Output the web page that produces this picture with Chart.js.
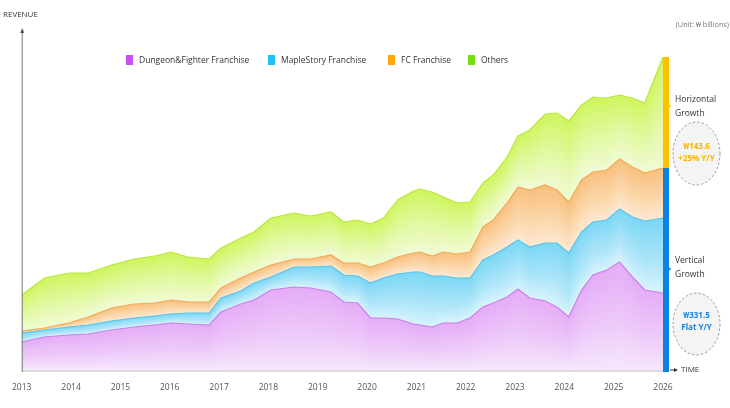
<!DOCTYPE html>
<html>
<head>
<meta charset="utf-8">
<script src="https://cdn.jsdelivr.net/npm/chart.js@4.4.1/dist/chart.umd.min.js"></script>
<style>
html,body{margin:0;padding:0;background:#fff;}
#wrap{width:730px;height:408px;position:relative;}
</style>
</head>
<body>
<div id="wrap"><canvas id="c" width="730" height="408"></canvas></div>
<script>
// ---- data ----
const timePoints = [2013.00,2013.46,2013.95,2014.35,2014.82,2015.28,2015.69,2016.03,2016.37,2016.80,
  2017.04,2017.44,2017.71,2018.05,2018.52,2018.86,2019.27,2019.53,2019.81,2020.07,
  2020.33,2020.62,2020.94,2021.08,2021.32,2021.55,2021.83,2022.09,2022.35,2022.56,
  2022.84,2023.06,2023.30,2023.61,2023.85,2024.09,2024.35,2024.58,2024.86,2025.12,
  2025.38,2025.63,2026.00];
const dungeonFighter = [28,33,35,36,40,43,45,47,46,45, 58,66,70,80,83,82,78,68,67,52,
  52,51,46,45,43,47,47,52,63,67, 73,81,72,69,63,53,80,95,100,108, 93,80,77];
const mapleStory = [9,7,8,9,9,9,9,9,11,12, 14,13,17,13,20,21,26,27,27,35,
  40,45,52,53,51,47,45,40,47,48, 50,49,51,58,64,64,58,53,50,53, 60,69,75];
const fcFranchise = [2,2,4,8,13,14,13,14,11,11, 10,13,11,12,8,8,11,12,13,16,
  15,17,19,20,20,24,24,26,33,35, 44,53,57,58,53,51,52,50,50,50, 50,48,50];
const others = [36,50,50,44,43,45,47,48,45,43, 40,40,40,47,46,43,43,41,43,43,
  45,57,62,63,64,55,51,50,44,45, 46,51,60,71,77,81,75,75,72,64, 69,70,111];
const yearTicks = ['2013','2014','2015','2016','2017','2018','2019','2020','2021','2022','2023','2024','2025','2026'];
const seriesNames = ['Dungeon&Fighter Franchise','MapleStory Franchise','FC Franchise','Others'];
const horizontalNote = ['₩143.6','+25% Y/Y'];
const verticalNote = ['₩331.5','Flat Y/Y'];

// ---- styles ----
const legendColors = ['#c94ff2','#1cc3f4','#ffa60a','#78dc12'];
const lineColors = ['#c97fe9','#55c4ea','#f3a955','#bde640'];
// gradient stops inside each layer: 0 = top edge of the layer, 1 = bottom edge
const layerStops = [
  [[0,'#e5acf7'],[0.55,'#edc9f9'],[1,'#f5e7fb']],
  [[0,'#7cd7f5'],[0.6,'#aee5f9'],[1,'#d8f4fd']],
  [[0,'#f8c07e'],[0.6,'#fbd8ad'],[1,'#fde9d2']],
  [[0,'#cff55e'],[0.5,'#e1f89f'],[1,'#f0fbd5']]
];
const FONT = '"Open Sans", "Noto Sans", sans-serif';
const seriesData = [dungeonFighter, mapleStory, fcFranchise, others];

function stackAt(idx, xv){
  if (idx < 0) return 0;
  let k = 0;
  while (k < timePoints.length - 2 && timePoints[k+1] < xv) k++;
  const t0 = timePoints[k], t1 = timePoints[k+1];
  const f = Math.max(0, Math.min(1, (xv - t0) / (t1 - t0)));
  let s = 0;
  for (let i = 0; i <= idx; i++) s += seriesData[i][k] + (seriesData[i][k+1] - seriesData[i][k]) * f;
  return s;
}

function layerFill(idx){
  return function(ctx){
    const chart = ctx.chart; const a = chart.chartArea;
    const xs = chart.scales && chart.scales.x, ys = chart.scales && chart.scales.y;
    if (!a || !xs || !ys) return lineColors[idx];
    chart.$pat = chart.$pat || {};
    const key = idx + ':' + a.left + ':' + a.right + ':' + a.top + ':' + a.bottom;
    if (chart.$pat[key]) return chart.$pat[key];
    const cv = document.createElement('canvas');
    cv.width = chart.width; cv.height = chart.height;
    const c = cv.getContext('2d');
    for (let px = Math.floor(a.left) - 1; px <= Math.ceil(a.right) + 1; px++) {
      const xv = Math.max(timePoints[0], Math.min(timePoints[timePoints.length-1], xs.getValueForPixel(px + 0.5)));
      const yT = ys.getPixelForValue(stackAt(idx, xv));
      const yB = ys.getPixelForValue(stackAt(idx - 1, xv));
      const g = c.createLinearGradient(0, yT, 0, Math.max(yB, yT + 1));
      layerStops[idx].forEach(s => g.addColorStop(s[0], s[1]));
      c.fillStyle = g;
      c.fillRect(px, yT - 3, 1, yB - yT + 6);
    }
    const p = chart.ctx.createPattern(cv, 'no-repeat');
    chart.$pat[key] = p;
    return p;
  };
}

const datasets = seriesData.map((arr, i) => ({
  label: seriesNames[i],
  data: arr.map((v, k) => ({x: timePoints[k], y: v})),
  borderColor: lineColors[i],
  borderWidth: 1.2,
  backgroundColor: layerFill(i),
  fill: i === 0 ? 'origin' : '-1',
  pointRadius: 0,
  tension: 0
}));

function ellipse(ctx, cx, cy, rx, ry){
  ctx.beginPath(); ctx.ellipse(cx, cy, rx, ry, 0, 0, Math.PI*2);
  ctx.fillStyle = '#f4f4f4'; ctx.fill();
  ctx.setLineDash([2.5,2]); ctx.strokeStyle = '#9a9a9a'; ctx.lineWidth = 1; ctx.stroke();
  ctx.setLineDash([]);
}

const decor = {
  id: 'decor',
  afterDatasetsDraw(chart){
    const ctx = chart.ctx; const xs = chart.scales.x; const ys = chart.scales.y;
    const a = chart.chartArea;
    ctx.save();
    // x axis base line
    ctx.strokeStyle = '#dcdcdc'; ctx.lineWidth = 2;
    ctx.beginPath(); ctx.moveTo(a.left, a.bottom+1); ctx.lineTo(a.right, a.bottom+1); ctx.stroke();
    // y axis with arrow
    ctx.strokeStyle = '#777'; ctx.lineWidth = 1;
    ctx.beginPath(); ctx.moveTo(a.left+0.5, a.top+2); ctx.lineTo(a.left+0.5, a.bottom+2); ctx.stroke();
    ctx.fillStyle = '#555';
    ctx.beginPath(); ctx.moveTo(a.left+0.5, a.top-2); ctx.lineTo(a.left-1.5, a.top+3); ctx.lineTo(a.left+2.5, a.top+3); ctx.fill();
    // right growth bar (from last data point)
    const n = timePoints.length - 1;
    const xr = xs.getPixelForValue(timePoints[n]);
    const total = dungeonFighter[n]+mapleStory[n]+fcFranchise[n]+others[n];
    const mid = dungeonFighter[n]+mapleStory[n]+fcFranchise[n];
    const yTop = ys.getPixelForValue(total), yMid = ys.getPixelForValue(mid), yBot = ys.getPixelForValue(0);
    ctx.fillStyle = '#ffc000'; ctx.fillRect(xr, yTop, 6, yMid - yTop);
    ctx.fillStyle = '#0a82e0'; ctx.fillRect(xr, yMid, 6, yBot - yMid + 2);
    ctx.fillStyle = '#ffc000'; ctx.beginPath(); ctx.arc(xr+6.5, 106, 1.3, 0, Math.PI*2); ctx.fill();
    ctx.fillStyle = '#0a82e0'; ctx.beginPath(); ctx.arc(xr+6.5, 269, 1.3, 0, Math.PI*2); ctx.fill();
    // TIME arrow
    ctx.strokeStyle = '#333'; ctx.lineWidth = 1;
    ctx.beginPath(); ctx.moveTo(xr+7, a.bottom); ctx.lineTo(xr+13, a.bottom); ctx.stroke();
    ctx.fillStyle = '#333';
    ctx.beginPath(); ctx.moveTo(xr+15, a.bottom); ctx.lineTo(xr+11, a.bottom-2); ctx.lineTo(xr+11, a.bottom+2); ctx.fill();
    ctx.font = '8px ' + FONT; ctx.textBaseline = 'middle'; ctx.textAlign = 'left';
    ctx.fillText('TIME', xr+18, a.bottom);
    // labels
    ctx.fillStyle = '#333'; ctx.font = '8px ' + FONT;
    ctx.fillText('REVENUE', 3, 15);
    ctx.font = '8.5px ' + FONT;
    ctx.fillText('Horizontal', 675, 100);
    ctx.fillText('Growth', 675, 114);
    ctx.fillText('Vertical', 675, 261);
    ctx.fillText('Growth', 675, 275);
    ctx.fillStyle = '#777'; ctx.font = '7.3px ' + FONT; ctx.textAlign = 'right';
    ctx.fillText('(Unit: ₩ billions)', 729, 25);
    // ellipses
    ellipse(ctx, 696.5, 153.5, 23.5, 31.5);
    ellipse(ctx, 696.5, 324, 23.5, 31);
    ctx.textAlign = 'center'; ctx.font = 'bold 8px ' + FONT;
    ctx.fillStyle = '#f7b500';
    ctx.fillText(horizontalNote[0], 696.5, 147);
    ctx.fillText(horizontalNote[1], 696.5, 159);
    ctx.fillStyle = '#1683e2';
    ctx.fillText(verticalNote[0], 696.5, 316);
    ctx.fillText(verticalNote[1], 696.5, 328);
    // legend
    const legendX = [126, 268, 388, 468];
    ctx.textAlign = 'left'; ctx.font = '8.5px ' + FONT;
    seriesNames.forEach((name, i) => {
      ctx.fillStyle = legendColors[i];
      ctx.fillRect(legendX[i], 55, 7, 10);
      ctx.fillStyle = '#333';
      ctx.fillText(name, legendX[i] + 13, 60.5);
    });
    ctx.restore();
  }
};

new Chart(document.getElementById('c'), {
  type: 'line',
  data: { datasets },
  options: {
    responsive: false,
    animation: false,
    devicePixelRatio: 1,
    layout: { padding: { left: 20, right: 67, top: 30, bottom: 0 } },
    plugins: { legend: { display: false }, tooltip: { enabled: false } },
    scales: {
      x: {
        type: 'linear', min: 2013, max: 2026,
        grid: { display: false, drawTicks: false },
        border: { display: false },
        ticks: {
          stepSize: 1, autoSkip: false, maxRotation: 0, padding: 12,
          color: '#555', font: { family: FONT, size: 8.5 },
          callback: (v) => yearTicks[Math.round(v - 2013)] ?? ''
        },
        afterFit(scale){ scale.height = 38; }
      },
      y: { stacked: true, min: 0, max: 340, display: false }
    }
  },
  plugins: [decor]
});
</script>
</body>
</html>
